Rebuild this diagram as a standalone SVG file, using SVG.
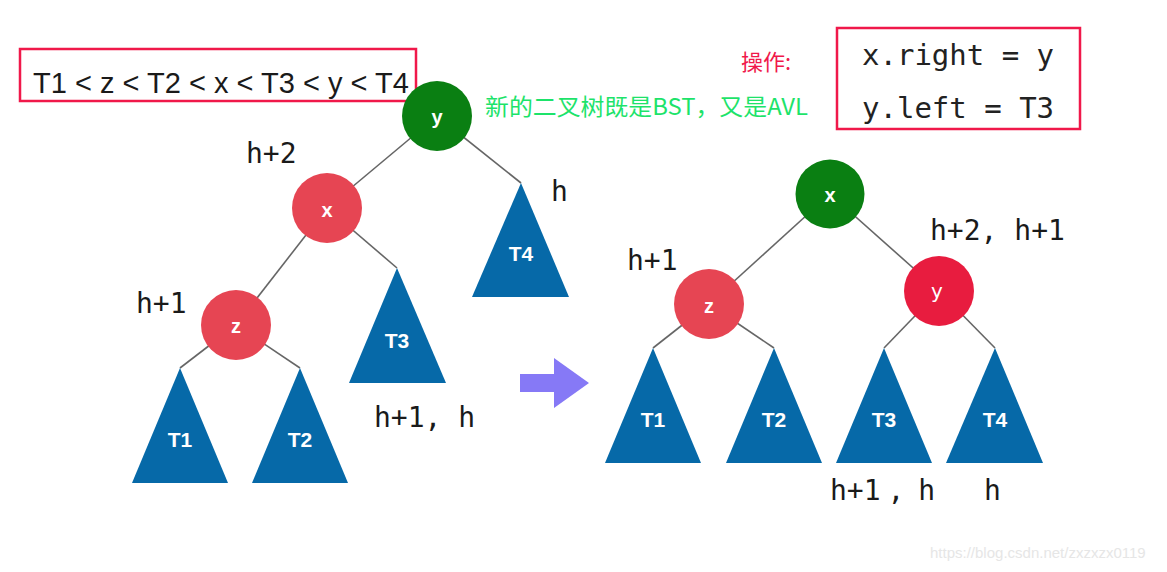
<svg xmlns="http://www.w3.org/2000/svg" width="1167" height="572" viewBox="0 0 1167 572">
<style>
.edge{stroke:#666;stroke-width:1.6;fill:none}
.tri{fill:#0669a8}
.red{fill:#e64553}
.red2{fill:#e81c3f}
.green{fill:#0a7f12}
.nl{font-family:"Liberation Sans",Arial,sans-serif;font-weight:bold;font-size:20px;fill:#fff;text-anchor:middle}
.tl{font-family:"Liberation Sans",Arial,sans-serif;font-weight:bold;font-size:21px;fill:#fff;text-anchor:middle}
.hl{font-family:"DejaVu Sans Mono",monospace;font-size:28px;fill:#1a1a1a}
.box{fill:none;stroke:#f0184a;stroke-width:2.5}
</style>
<rect width="1167" height="572" fill="#fff"/>
<g id="connectors">
<line class="edge" x1="437" y1="116" x2="327" y2="208"/>
<line class="edge" x1="437" y1="116" x2="521" y2="183"/>
<line class="edge" x1="327" y1="208" x2="236" y2="325"/>
<line class="edge" x1="327" y1="208" x2="397" y2="268"/>
<line class="edge" x1="236" y1="325" x2="180" y2="368"/>
<line class="edge" x1="236" y1="325" x2="300" y2="368"/>
<line class="edge" x1="830" y1="194" x2="709" y2="304"/>
<line class="edge" x1="830" y1="194" x2="939" y2="291"/>
<line class="edge" x1="709" y1="304" x2="653" y2="348"/>
<line class="edge" x1="709" y1="304" x2="774" y2="348"/>
<line class="edge" x1="939" y1="291" x2="884" y2="348"/>
<line class="edge" x1="939" y1="291" x2="995" y2="348"/>
</g>
<g id="header">
<rect class="box" x="20" y="49" width="396" height="52"/>
<text x="33" y="93" font-family="Liberation Sans,Arial,sans-serif" font-size="29" fill="#1a1a1a" textLength="376" lengthAdjust="spacingAndGlyphs">T1 &lt; z &lt; T2 &lt; x &lt; T3 &lt; y &lt; T4</text>
<text x="741" y="70" font-family="Noto Sans CJK SC,sans-serif" font-size="22" fill="#f0184a">操作:</text>
<text x="485" y="115" font-family="Noto Sans CJK SC,sans-serif" font-size="23" fill="#1de36a" textLength="323" lengthAdjust="spacingAndGlyphs">新的二叉树既是BST，又是AVL</text>
<rect class="box" x="837" y="28" width="243" height="101"/>
<text x="862" y="65" font-family="DejaVu Sans Mono,monospace" font-size="29" fill="#222">x.right = y</text>
<text x="862" y="118" font-family="DejaVu Sans Mono,monospace" font-size="29" fill="#222">y.left = T3</text>
</g>
<g id="L_y"><circle class="green" cx="437" cy="116" r="35"/><text class="nl" x="437" y="124">y</text></g>
<g id="L_x"><circle class="red" cx="327" cy="208" r="35"/><text class="nl" x="327" y="217">x</text></g>
<g id="L_z"><circle class="red" cx="236" cy="325" r="35"/><text class="nl" x="236" y="333">z</text></g>
<g id="L_T1"><polygon class="tri" points="180,368 228,483 132,483"/><text class="tl" x="180" y="447">T1</text></g>
<g id="L_T2"><polygon class="tri" points="300,368 348,483 252,483"/><text class="tl" x="300" y="447">T2</text></g>
<g id="L_T3"><polygon class="tri" points="397,268 446,383 349,383"/><text class="tl" x="397" y="348">T3</text></g>
<g id="L_T4"><polygon class="tri" points="521,183 569,297 472,297"/><text class="tl" x="521" y="261">T4</text></g>
<g id="L_labels">
<text class="hl" x="246" y="163">h+2</text>
<text class="hl" x="551" y="201">h</text>
<text class="hl" x="136" y="313">h+1</text>
<text class="hl" x="374" y="427">h+1, h</text>
</g>
<g id="arrow"><polygon points="520,374 554,374 554,358 589,383 554,408 554,392 520,392" fill="#8679f6"/></g>
<g id="R_x"><circle class="green" cx="830" cy="194" r="34.5"/><text class="nl" x="830" y="202">x</text></g>
<g id="R_z"><circle class="red" cx="709" cy="304" r="35"/><text class="nl" x="709" y="313">z</text></g>
<g id="R_y"><circle class="red2" cx="939" cy="291" r="35"/><text x="937" y="298" font-family="DejaVu Sans,sans-serif" font-size="20" fill="#fff" text-anchor="middle">y</text></g>
<g id="R_T1"><polygon class="tri" points="653,348 701,463 605,463"/><text class="tl" x="653" y="427">T1</text></g>
<g id="R_T2"><polygon class="tri" points="774,348 822,463 726,463"/><text class="tl" x="774" y="427">T2</text></g>
<g id="R_T3"><polygon class="tri" points="884,348 932,463 836,463"/><text class="tl" x="884" y="427">T3</text></g>
<g id="R_T4"><polygon class="tri" points="995,348 1043,463 946,463"/><text class="tl" x="995" y="427">T4</text></g>
<g id="R_labels">
<text class="hl" x="627" y="270">h+1</text>
<text class="hl" x="930" y="240">h+2, h+1</text>
<text class="hl" x="830" y="500" dx="0 0 0 -3 -7 -3 0">h+1 , h</text>
<text class="hl" x="984" y="500">h</text>
</g>
<text x="930" y="558" font-family="Liberation Sans,Arial,sans-serif" font-size="15" fill="#e6e6e6">https://blog.csdn.net/zxzxzx0119</text>
</svg>
